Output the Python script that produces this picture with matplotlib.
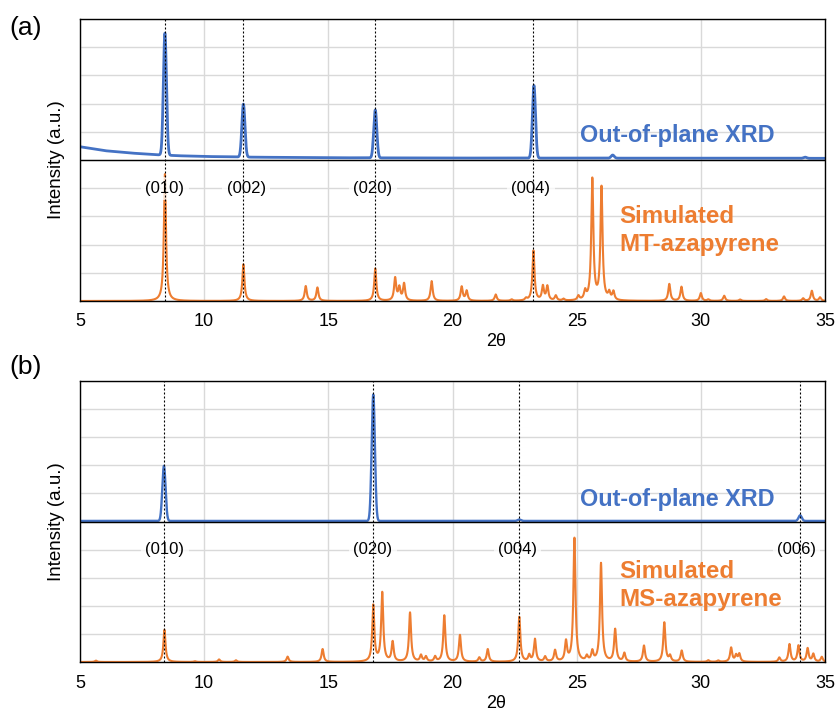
import numpy as np
import matplotlib
matplotlib.use("Agg")
import matplotlib.pyplot as plt

plt.rcParams['font.family'] = ['Liberation Sans', 'DejaVu Sans']

# ---------------- data ----------------
xticks = [5, 10, 15, 20, 25, 30, 35]

# (a) measured out-of-plane XRD: peak positions / intensities (fraction of half panel)
a_xrd_pos = [8.42, 11.58, 16.89, 23.28, 26.45, 34.2]
a_xrd_int = [0.865, 0.375, 0.34, 0.515, 0.022, 0.008]
a_xrd_base_x = [5, 6, 7, 8, 9, 10, 12, 15, 20, 35]
a_xrd_base_y = [0.094, 0.066, 0.05, 0.038, 0.03, 0.025, 0.02, 0.016, 0.014, 0.012]

# (a) simulated MT-azapyrene
a_sim_pos = [8.42, 11.58, 14.09, 14.56, 16.89, 17.69, 17.86, 18.05, 19.16,
             20.37, 20.57, 21.74, 22.38, 22.96, 23.26, 23.64, 23.82, 24.16,
             24.47, 25.07, 25.34, 25.63, 26.0, 26.31, 26.48, 28.73, 29.22,
             30.0, 30.3, 30.94, 31.58, 32.63, 33.35, 34.12, 34.47, 34.8]
a_sim_int = [0.90, 0.26, 0.105, 0.095, 0.23, 0.16, 0.09, 0.12, 0.14,
             0.10, 0.07, 0.045, 0.01, 0.015, 0.355, 0.10, 0.10, 0.035,
             0.012, 0.03, 0.06, 0.86, 0.80, 0.05, 0.06, 0.12, 0.10,
             0.055, 0.01, 0.037, 0.01, 0.013, 0.032, 0.018, 0.072, 0.025]

# (b) measured out-of-plane XRD
b_xrd_pos = [8.38, 16.81, 22.69, 34.0]
b_xrd_int = [0.392, 0.90, 0.01, 0.04]
b_xrd_base = 0.004

# (b) simulated MS-azapyrene
b_sim_pos = [5.64, 8.40, 9.63, 10.6, 11.28, 13.36, 14.77, 16.81, 17.17, 17.59,
             18.29, 18.73, 18.93, 19.30, 19.67, 20.30, 21.08, 21.42, 22.69,
             23.09, 23.32, 23.73, 24.13, 24.57, 24.91, 25.41, 25.63, 25.98,
             26.55, 26.92, 27.71, 28.53, 28.76, 29.23, 30.3, 30.7, 31.22,
             31.42, 31.55, 33.16, 33.57, 33.93, 34.30, 34.53, 34.87]
b_sim_int = [0.01, 0.23, 0.005, 0.018, 0.012, 0.038, 0.092, 0.40, 0.49, 0.14,
             0.35, 0.045, 0.035, 0.035, 0.33, 0.19, 0.03, 0.09, 0.32,
             0.045, 0.16, 0.035, 0.08, 0.14, 0.88, 0.035, 0.07, 0.70,
             0.23, 0.06, 0.115, 0.28, 0.04, 0.08, 0.012, 0.01, 0.10,
             0.045, 0.055, 0.03, 0.125, 0.115, 0.095, 0.055, 0.035]

a_hkl_pos = [8.42, 11.58, 16.89, 23.26]
a_hkl_lab = ["(010)", "(002)", "(020)", "(004)"]
a_hkl_lab_x = [8.42, 11.69, 16.79, 23.16]
b_hkl_pos = [8.40, 16.81, 22.69, 34.0]
b_hkl_lab = ["(010)", "(020)", "(004)", "(006)"]
b_hkl_lab_x = [8.42, 16.79, 22.63, 33.84]

BLUE = "#4472C4"
ORANGE = "#ED7D31"
GRID = "#D9D9D9"

x = np.arange(5.0, 35.0001, 0.004)


def lorentz_sum(pos, inten, g=0.05):
    y = np.zeros_like(x)
    for p, h in zip(pos, inten):
        y += h * g * g / ((x - p) ** 2 + g * g)
    return y


def gauss_sum(pos, inten, s=0.058):
    y = np.zeros_like(x)
    for p, h in zip(pos, inten):
        y += h * np.exp(-0.5 * ((x - p) / s) ** 2)
    return y


fig = plt.figure(figsize=(8.36, 7.11), dpi=100)
W, H = 836, 711
left, right = 80 / W, 825 / W
panels = [
    dict(top=19, bot=301, xrd=gauss_sum(a_xrd_pos, a_xrd_int, s=0.062) + np.interp(x, a_xrd_base_x, a_xrd_base_y),
         sim=lorentz_sum(a_sim_pos, a_sim_int), hkl=a_hkl_pos, lab=a_hkl_lab, labx=a_hkl_lab_x,
         name="Simulated\nMT-azapyrene", letter="(a)", letter_y=28, xlab_y=342, blw=2.0,
         xrd_ty=1.175, sim_ty=0.50),
    dict(top=381, bot=662, xrd=gauss_sum(b_xrd_pos, b_xrd_int, s=0.065) + b_xrd_base,
         sim=lorentz_sum(b_sim_pos, b_sim_int), hkl=b_hkl_pos, lab=b_hkl_lab, labx=b_hkl_lab_x,
         name="Simulated\nMS-azapyrene", letter="(b)", letter_y=367, xlab_y=704, blw=1.7,
         xrd_ty=1.16, sim_ty=0.545),
]

for P in panels:
    ax = fig.add_axes([left, 1 - P['bot'] / H, right - left, (P['bot'] - P['top']) / H])
    ax.set_xlim(5, 35)
    ax.set_ylim(0, 2)
    ax.set_xticks(xticks)
    ax.set_xticklabels([str(t) for t in xticks])
    ax.set_yticks(np.arange(0, 2.01, 0.2))
    ax.set_yticklabels([])
    ax.tick_params(axis='both', length=0)
    ax.tick_params(axis='x', labelsize=13, pad=9)
    ax.grid(True, color=GRID, lw=1.0, zorder=0)
    ax.set_axisbelow(True)
    for s in ax.spines.values():
        s.set_color('black')
        s.set_linewidth(1.0)
    ax.axhline(1.0, color='black', lw=1.0, zorder=3)

    ax.plot(x, P['sim'], color=ORANGE, lw=1.5, zorder=2)
    ax.plot(x, 1.0 + P['xrd'], color=BLUE, lw=P['blw'], zorder=2.5)

    for xp in P['hkl']:
        ax.axvline(xp, color='black', lw=0.8, ls=(0, (1.8, 1.8)), zorder=5)
    for lx, lb in zip(P['labx'], P['lab']):
        ax.text(lx, 0.80, lb, ha='center', va='center', fontsize=12, color='black', zorder=4,
                bbox=dict(boxstyle='square,pad=0.25', fc='white', ec='none', alpha=0.75))

    ax.text(25.14, P['xrd_ty'], "Out-of-plane XRD", color=BLUE, fontsize=16.8, fontweight='bold',
            ha='left', va='center', zorder=6)
    ax.text(26.72, P['sim_ty'], P['name'], color=ORANGE, fontsize=17.4, fontweight='bold',
            ha='left', va='center', linespacing=1.3, zorder=6)

    ax.text(-0.031, 0.5, "Intensity (a.u.)", transform=ax.transAxes, rotation=90,
            ha='center', va='center', fontsize=13.5)

    fig.text(9 / W, 1 - P['letter_y'] / H, P['letter'], fontsize=19, ha='left', va='center')
    fig.text(496 / W, 1 - P['xlab_y'] / H, "2θ", fontsize=13, ha='center', va='center')

fig.savefig("out.png", dpi=100)
